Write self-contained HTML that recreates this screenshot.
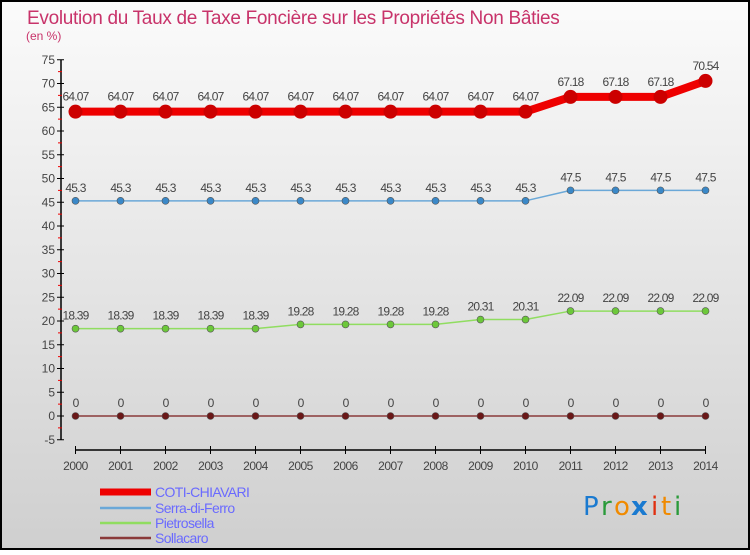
<!DOCTYPE html>
<html><head><meta charset="utf-8"><style>
html,body{margin:0;padding:0}
body{width:750px;height:550px;overflow:hidden;font-family:"Liberation Sans",sans-serif}
</style></head><body>
<svg id="chart" width="750" height="550" xmlns="http://www.w3.org/2000/svg" font-family="Liberation Sans, sans-serif">
<defs><linearGradient id="bg" x1="0" y1="0" x2="0" y2="1"><stop offset="0" stop-color="#fbfbfb"/><stop offset="1" stop-color="#cfcfcf"/></linearGradient></defs>
<rect x="1" y="1" width="748" height="548" fill="url(#bg)" stroke="#000" stroke-width="2"/>
<text x="27" y="24" font-size="19" fill="#c8336a" letter-spacing="-0.3">Evolution du Taux de Taxe Foncière sur les Propriétés Non Bâties</text>
<text x="26" y="40" font-size="12" fill="#c8336a">(en %)</text>
<g id="axes"></g>
<g id="series"></g>
<g id="legend"></g>
<g font-size="26" font-family="DejaVu Sans, sans-serif">
<text x="583" y="515" fill="#1a7ad0">P</text><text x="601" y="515" fill="#2a9a3a">r</text><text x="614" y="515" fill="#f08a00">o</text><text x="631" y="515" fill="#1a7ad0" font-weight="bold">x</text><text x="651" y="515" fill="#e03010">i</text><text x="661" y="515" fill="#f08a00">t</text><text x="674" y="515" fill="#2a9a3a">i</text>
</g>
</svg>
<script>
const years=[2000,2001,2002,2003,2004,2005,2006,2007,2008,2009,2010,2011,2012,2013,2014];
const yTicks=[-5,0,5,10,15,20,25,30,35,40,45,50,55,60,65,70,75];
const names=["COTI-CHIAVARI","Serra-di-Ferro","Pietrosella","Sollacaro"];
const coti=[64.07,64.07,64.07,64.07,64.07,64.07,64.07,64.07,64.07,64.07,64.07,67.18,67.18,67.18,70.54];
const serra=[45.3,45.3,45.3,45.3,45.3,45.3,45.3,45.3,45.3,45.3,45.3,47.5,47.5,47.5,47.5];
const pietro=[18.39,18.39,18.39,18.39,18.39,19.28,19.28,19.28,19.28,20.31,20.31,22.09,22.09,22.09,22.09];
const solla=[0,0,0,0,0,0,0,0,0,0,0,0,0,0,0];
const NS="http://www.w3.org/2000/svg";
const xS=i=>75.5+i*45;
const yS=v=>416-v*4.75;
function mk(t,a,p){const e=document.createElementNS(NS,t);for(const k in a)e.setAttribute(k,a[k]);p.appendChild(e);return e;}
const ax=document.getElementById('axes');
const yl=mk('line',{x1:61,y1:yS(75),x2:61,y2:yS(-5),stroke:'#000','stroke-width':1.5},ax);


yTicks.forEach((v,k)=>{
 mk('line',{x1:57,y1:yS(v),x2:64,y2:yS(v),stroke:'#000'},ax);
 if(k<yTicks.length-1) mk('line',{x1:58,y1:yS(v+2.5),x2:62,y2:yS(v+2.5),stroke:'#e00'},ax);
 const t=mk('text',{x:55,y:yS(v)+4,'text-anchor':'end','font-size':12,fill:'#444'},ax);t.textContent=v;
 
 
});
const xl=mk('line',{x1:xS(0),y1:450,x2:xS(14),y2:450,stroke:'#000','stroke-width':1.5},ax);


years.forEach((y,i)=>{
 mk('line',{x1:xS(i),y1:446,x2:xS(i),y2:454,stroke:'#000'},ax);
 const t=mk('text',{x:xS(i),y:470,'text-anchor':'middle','font-size':12,fill:'#444','letter-spacing':-0.5},ax);t.textContent=y;
 
 
});
const sg=document.getElementById('series');
const defs=[[coti,'#ee0000','#cc0000',8,7,'coti-chiavari'],[serra,'#6aa8d8','#3a88c8',1.5,3.5,'serra-di-ferro'],[pietro,'#90dd60','#6cc83a',1.5,3.5,'pietrosella'],[solla,'#8a3a3a','#6a1818',1.5,3.5,'sollacaro']];
defs.forEach(([d,lc,mc,w,r,n])=>{
 const g=mk('g',{},sg);
 
 
 const pl=mk('polyline',{points:d.map((v,i)=>xS(i)+','+yS(v)).join(' '),fill:'none',stroke:lc,'stroke-width':w,'stroke-linejoin':'round'},g);
 
 
 d.forEach((v,i)=>{
  const c=mk('circle',{cx:xS(i),cy:yS(v),r:r,fill:mc,stroke:w>2?'#cc0000':'#555','stroke-width':w>2?0:0.6},g);
  
  
  const t=mk('text',{x:xS(i),y:yS(v)-(w>2?11:9),'text-anchor':'middle','font-size':12,fill:'#444','letter-spacing':-0.8},g);
  t.textContent=String(v);
  
  
 });
});
const lg=document.getElementById('legend');
names.forEach((n,k)=>{
 const y=[492,508,523,538][k];
 const g=mk('g',{},lg);
 
 
 mk('line',{x1:100,y1:y,x2:151,y2:y,stroke:defs[k][1],'stroke-width':k==0?7:2.5},g);
 const t=mk('text',{x:155,y:y+5,'font-size':14,fill:'#6a6aff','letter-spacing':-0.6},g);t.textContent=n;
});
</script>
</body></html>
